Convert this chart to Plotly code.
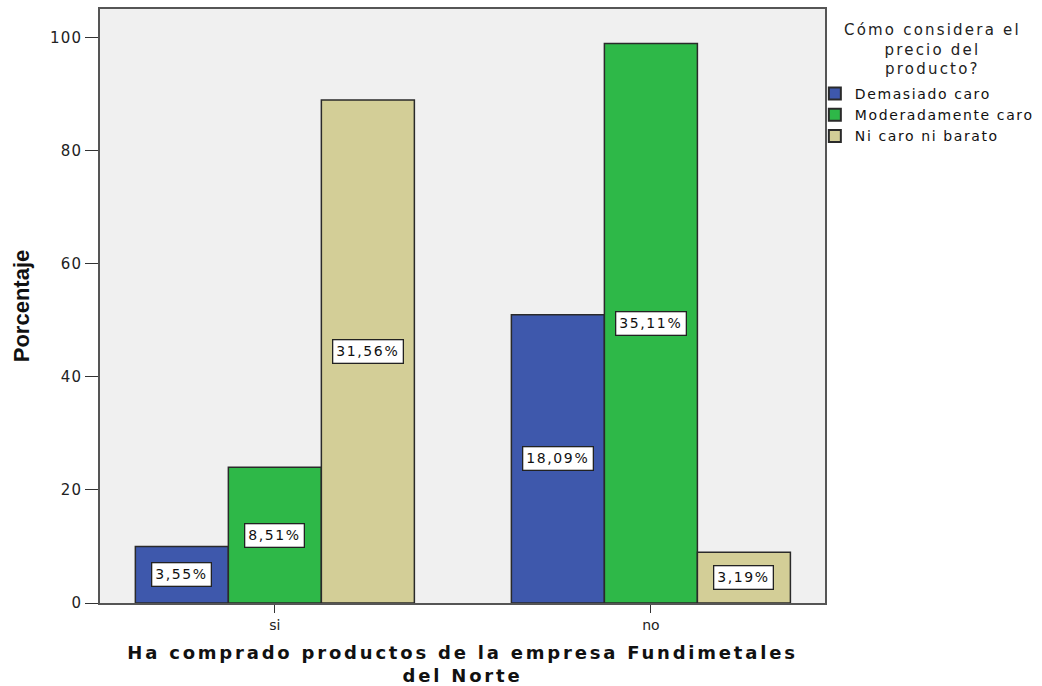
import plotly.graph_objects as go

categories = ["si", "no"]
series_names = ["Demasiado caro", "Moderadamente caro", "Ni caro ni barato"]
values = {
    "Demasiado caro": [10, 51],
    "Moderadamente caro": [24, 99],
    "Ni caro ni barato": [89, 9],
}
labels = {
    "Demasiado caro": ["3,55%", "18,09%"],
    "Moderadamente caro": ["8,51%", "35,11%"],
    "Ni caro ni barato": ["31,56%", "3,19%"],
}
colors = {
    "Demasiado caro": "#3E58AC",
    "Moderadamente caro": "#2EB848",
    "Ni caro ni barato": "#D3CE97",
}
y_ticks = [0, 20, 40, 60, 80, 100]
legend_title = "Cómo considera el<br>precio del<br>producto?"
x_title = "Ha comprado productos de la empresa Fundimetales<br>del Norte"
y_title = "Porcentaje"


def spaced(text, px):
    return "<br>".join(
        f"<span style='letter-spacing:{px}px'>{line}</span>" for line in text.split("<br>")
    )


bargap = 0.258
n = len(series_names)
bar_w = (1 - bargap) / n

fig = go.Figure()
for s in series_names:
    fig.add_trace(go.Bar(
        x=categories, y=values[s], name=spaced(s, 1.6),
        marker=dict(color=colors[s], line=dict(color="#2a2a2a", width=1.5)),
    ))

annotations = []
for i, s in enumerate(series_names):
    off = (i - (n - 1) / 2) * bar_w
    for j, c in enumerate(categories):
        annotations.append(dict(
            x=j + off, y=values[s][j] / 2, xref="x", yref="y",
            text=spaced(labels[s][j], 1.6), showarrow=False,
            font=dict(family="DejaVu Sans", size=14, color="#111111"),
            bgcolor="white", bordercolor="#222222", borderwidth=1.3, borderpad=3,
        ))

annotations.append(dict(
    x=1.1476, y=0.984, xref="paper", yref="paper", xanchor="center", yanchor="top",
    text=spaced(legend_title, 2.2), showarrow=False, align="center",
    font=dict(family="DejaVu Sans", size=15, color="#222222"),
))

fig.update_layout(
    width=1042, height=686,
    margin=dict(l=100, r=217, t=9, b=83, autoexpand=False),
    paper_bgcolor="white", plot_bgcolor="#F0F0F0",
    barmode="group", bargap=bargap, bargroupgap=0,
    font=dict(family="DejaVu Sans", color="#222222"),
    annotations=annotations,
    showlegend=True,
    legend=dict(
        x=0.986, xanchor="left", y=0.884, yanchor="top",
        font=dict(family="DejaVu Sans", size=14, color="#111111"),
        itemsizing="constant", tracegroupgap=0,
        bgcolor="rgba(0,0,0,0)",
    ),
    xaxis=dict(
        range=[-0.465, 1.463], automargin=False,
        showline=True, linecolor="#555555", linewidth=1.5, mirror=True,
        ticks="outside", ticklen=8, tickcolor="#333333",
        tickfont=dict(family="DejaVu Sans", size=14, color="#222222"),
        title=dict(text="<b>" + spaced(x_title, 2.8) + "</b>",
                   font=dict(family="DejaVu Sans", size=18, color="#111111"), standoff=23),
        showgrid=False,
    ),
    yaxis=dict(
        range=[0, 105.1], tickvals=y_ticks,
        ticktext=[spaced(str(v), 1.2) for v in y_ticks], automargin=False,
        showline=True, linecolor="#555555", linewidth=1.5, mirror=True,
        ticks="outside", ticklen=13, tickcolor="#333333",
        tickfont=dict(family="DejaVu Sans", size=15, color="#222222"),
        title=dict(text="<b>" + y_title + "</b>",
                   font=dict(family="Liberation Sans Narrow, Liberation Sans, Arial", size=22, color="#111111"),
                   standoff=14),
        showgrid=False, zeroline=False,
    ),
)

fig.write_html("out.html")
